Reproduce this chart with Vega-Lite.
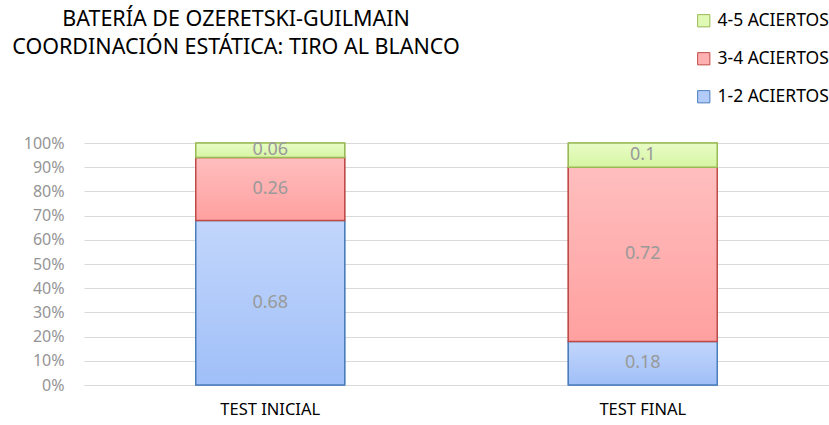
{
  "$schema": "https://vega.github.io/schema/vega-lite/v6.json",
  "autosize": "none",
  "width": 745,
  "height": 242,
  "padding": {"left": 84, "top": 143, "right": 0, "bottom": 40},
  "background": "white",
  "config": {"view": {"stroke": null}, "font": "Noto Sans"},
  "title": {
    "text": ["BATERÍA DE OZERETSKI-GUILMAIN", "COORDINACIÓN ESTÁTICA: TIRO AL BLANCO"],
    "anchor": "start",
    "frame": "group",
    "align": "center",
    "baseline": "top",
    "dx": 152,
    "dy": 50,
    "fontSize": 21.5,
    "fontWeight": "normal",
    "color": "#000000",
    "lineHeight": 28,
    "font": "Noto Sans"
  },
  "data": {
    "values": [
      {"test": "TEST INICIAL", "serie": "1-2 ACIERTOS", "valor": 0.68},
      {"test": "TEST INICIAL", "serie": "3-4 ACIERTOS", "valor": 0.26},
      {"test": "TEST INICIAL", "serie": "4-5 ACIERTOS", "valor": 0.06},
      {"test": "TEST FINAL", "serie": "1-2 ACIERTOS", "valor": 0.18},
      {"test": "TEST FINAL", "serie": "3-4 ACIERTOS", "valor": 0.72},
      {"test": "TEST FINAL", "serie": "4-5 ACIERTOS", "valor": 0.1}
    ]
  },
  "transform": [
    {"stack": "valor", "groupby": ["test"], "as": ["y0", "y1"], "sort": [{"field": "serie", "order": "ascending"}], "offset": "normalize"},
    {"calculate": "(datum.y0 + datum.y1) / 2", "as": "ymid"}
  ],
  "encoding": {
    "x": {
      "field": "test",
      "type": "nominal",
      "sort": ["TEST INICIAL", "TEST FINAL"],
      "scale": {"paddingInner": 0.6, "paddingOuter": 0.3},
      "axis": {
        "title": null,
        "labelAngle": 0,
        "labelFontSize": 16.5,
        "labelColor": "#000000",
        "labelPadding": 16,
        "ticks": false,
        "domain": true,
        "domainColor": "#d9d9d9",
        "labelFont": "Noto Sans"
      }
    },
    "y": {
      "field": "y0",
      "type": "quantitative",
      "scale": {"domain": [0, 1]},
      "axis": {
        "title": null,
        "format": "%",
        "values": [0, 0.1, 0.2, 0.3, 0.4, 0.5, 0.6, 0.7, 0.8, 0.9, 1],
        "labelOverlap": false,
        "labelFontSize": 16,
        "labelColor": "#959595",
        "labelPadding": 20,
        "ticks": false,
        "domain": false,
        "gridColor": "#d9d9d9",
        "gridWidth": 1,
        "labelFont": "Noto Sans"
      }
    },
    "y2": {"field": "y1"}
  },
  "layer": [
    {
      "mark": {"type": "bar", "strokeWidth": 1},
      "encoding": {
        "fill": {
          "field": "serie",
          "type": "nominal",
          "scale": {
            "domain": ["4-5 ACIERTOS", "3-4 ACIERTOS", "1-2 ACIERTOS"],
            "range": ["#e0fab5", "#ffb0b0", "#b3cbf9"]
          },
          "legend": {
            "title": null,
            "orient": "none",
            "legendX": 611,
            "legendY": -131,
            "symbolType": "square",
            "symbolSize": 150,
            "symbolStrokeWidth": 1,
            "symbolOpacity": 1,
            "labelFontSize": 17.5,
            "labelColor": "#000000",
            "labelOffset": 5,
            "rowPadding": 19,
            "labelFont": "Noto Sans"
          }
        },
        "stroke": {
          "field": "serie",
          "type": "nominal",
          "scale": {
            "domain": ["4-5 ACIERTOS", "3-4 ACIERTOS", "1-2 ACIERTOS"],
            "range": ["#98b954", "#be4b48", "#4a7ebb"]
          }
        }
      }
    },
    {
      "mark": {"type": "bar", "strokeWidth": 1.5},
      "encoding": {
        "stroke": {
          "condition": [
            {"test": "datum.serie == '4-5 ACIERTOS'", "value": "#98b954"},
            {"test": "datum.serie == '3-4 ACIERTOS'", "value": "#be4b48"}
          ],
          "value": "#4a7ebb"
        },
        "fill": {
          "condition": [
            {
              "test": "datum.serie == '4-5 ACIERTOS'",
              "value": {"gradient": "linear", "x1": 0, "y1": 0, "x2": 0, "y2": 1, "stops": [{"offset": 0, "color": "#e8fcc6"}, {"offset": 1, "color": "#d6f5a3"}]}
            },
            {
              "test": "datum.serie == '3-4 ACIERTOS'",
              "value": {"gradient": "linear", "x1": 0, "y1": 0, "x2": 0, "y2": 1, "stops": [{"offset": 0, "color": "#ffbebe"}, {"offset": 1, "color": "#ffa0a0"}]}
            }
          ],
          "value": {"gradient": "linear", "x1": 0, "y1": 0, "x2": 0, "y2": 1, "stops": [{"offset": 0, "color": "#c2d6fb"}, {"offset": 1, "color": "#a0bff8"}]}
        }
      }
    },
    {
      "mark": {"type": "text", "fontSize": 18, "color": "#9a9a9a", "baseline": "middle", "font": "Noto Sans"},
      "encoding": {
        "y": {
          "field": "ymid",
          "type": "quantitative",
          "axis": {
            "title": null,
            "format": "%",
            "values": [0, 0.1, 0.2, 0.3, 0.4, 0.5, 0.6, 0.7, 0.8, 0.9, 1],
            "labelOverlap": false,
            "labelFontSize": 16,
            "labelColor": "#959595",
            "labelPadding": 20,
            "ticks": false,
            "domain": false,
            "gridColor": "#d9d9d9",
            "gridWidth": 1,
            "labelFont": "Noto Sans"
          }
        },
        "y2": null,
        "text": {"field": "valor", "type": "quantitative"}
      }
    }
  ]
}
